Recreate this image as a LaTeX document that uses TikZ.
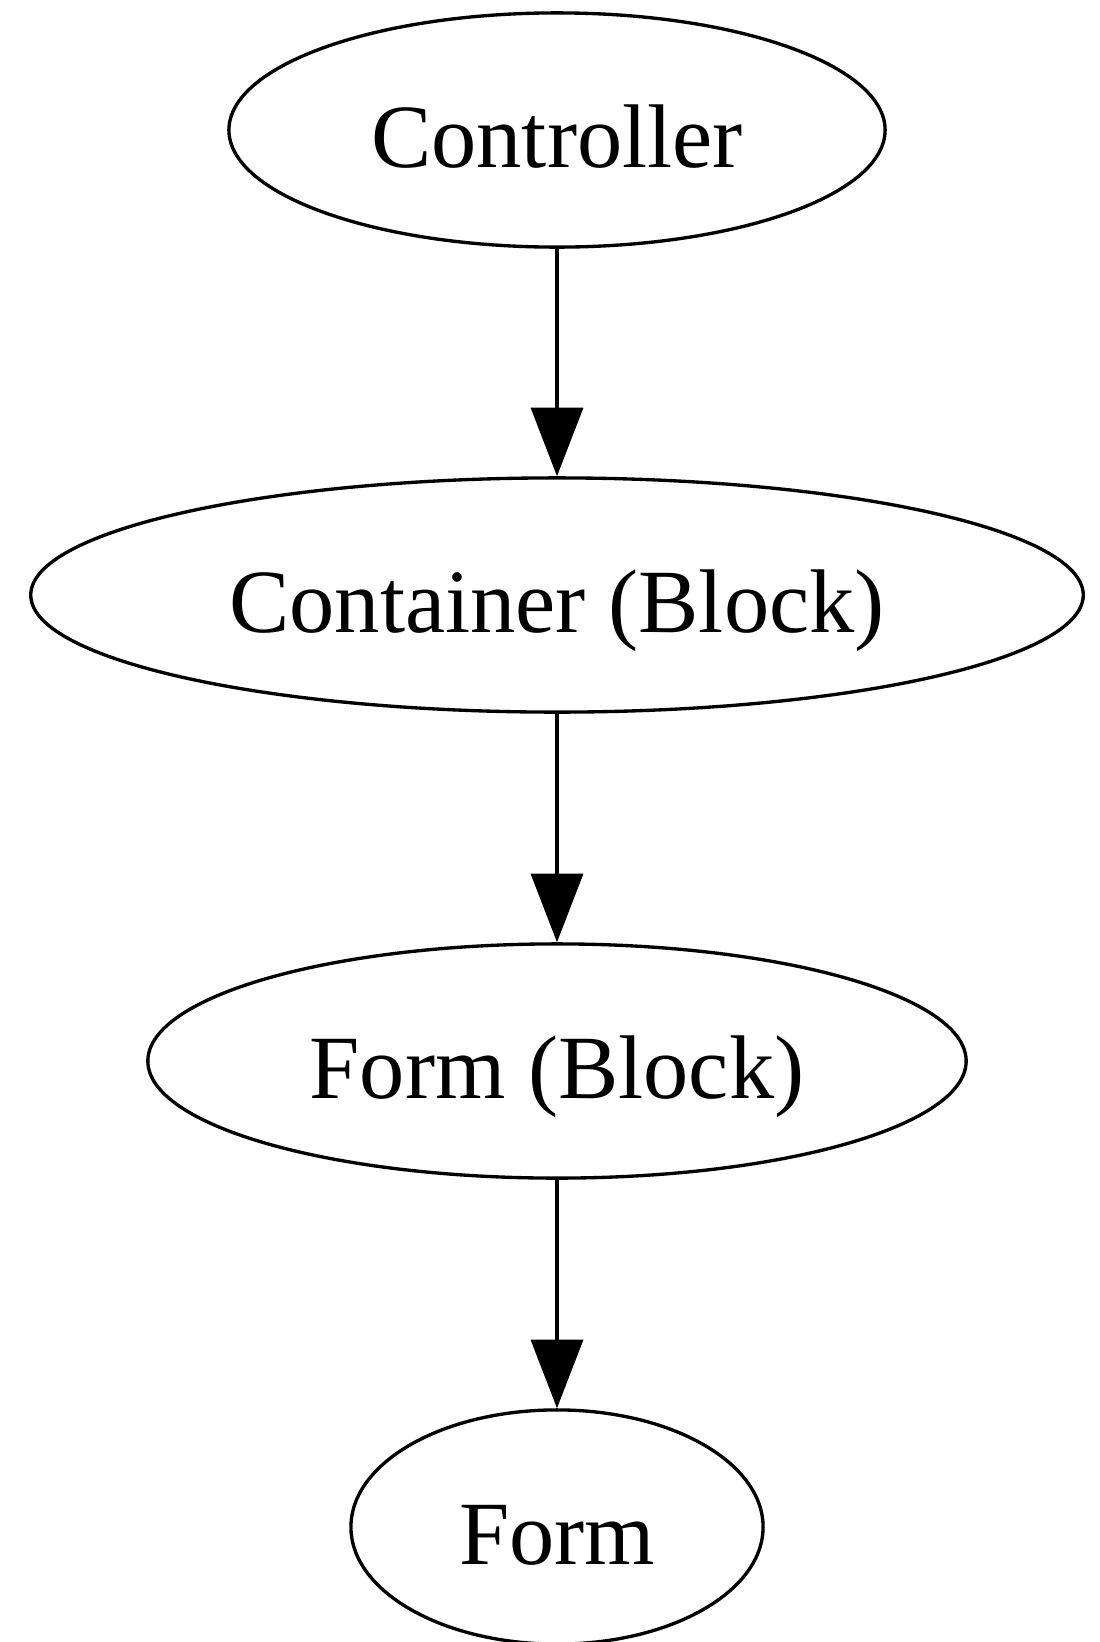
\documentclass[tikz,border=0pt]{standalone}
\usepackage{fontspec}
\setmainfont{Liberation Serif}
\usetikzlibrary{shapes.geometric,arrows.meta}
\begin{document}
\begin{tikzpicture}[x=0.01cm,y=-0.01cm,
  nodebox/.style={ellipse,draw,line width=0.95pt,inner sep=0pt,
    minimum height=66.6pt,
    font=\fontsize{25.7}{30}\selectfont,text height=22.5pt,text depth=1.3pt},
  link/.style={line width=0.95pt,-{Triangle[length=19.5pt,width=14.8pt]}}]
\useasboundingbox[fill=white] (0,0) rectangle (1100,1642);
\node[nodebox,minimum width=186.6pt] (ctrl) at (557,130) {Controller};
\node[nodebox,minimum width=299.3pt] (cont) at (557,595) {Container (Block)};
\node[nodebox,minimum width=232.7pt] (fblk) at (557,1061) {Form (Block)};
\node[nodebox,minimum width=117.2pt] (form) at (557,1527) {Form};
\draw[link] (ctrl) -- (cont);
\draw[link] (cont) -- (fblk);
\draw[link] (fblk) -- (form);
\end{tikzpicture}
\end{document}
